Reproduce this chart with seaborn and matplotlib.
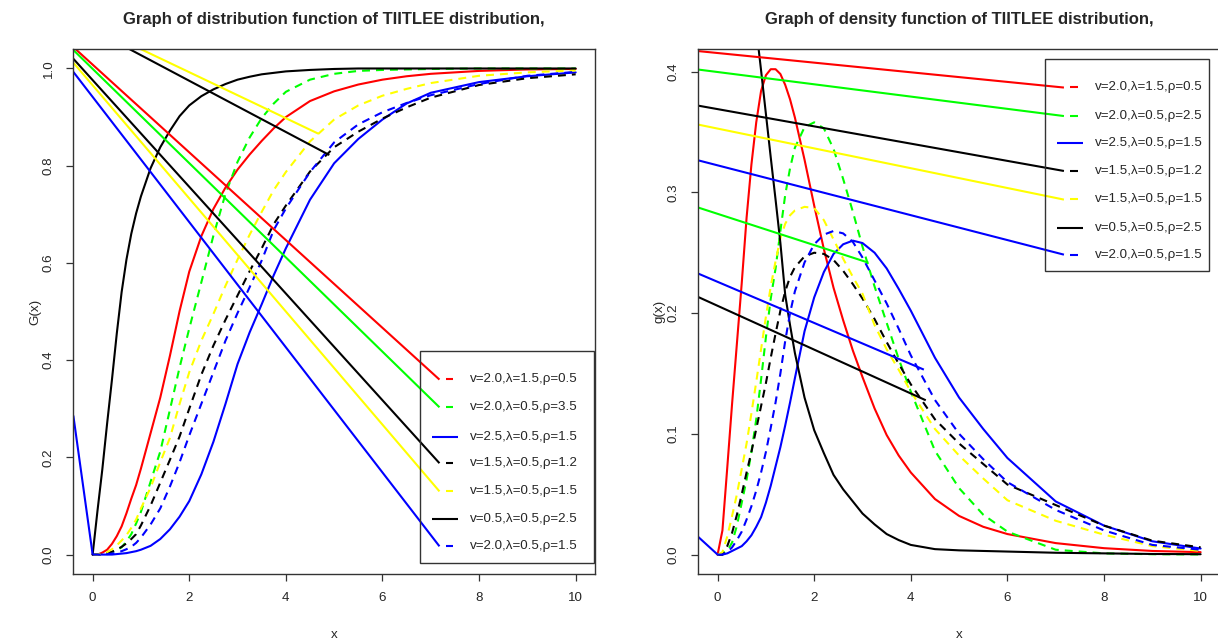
import numpy as np
import pandas as pd
import seaborn as sns
import matplotlib
matplotlib.use("Agg")
import matplotlib.pyplot as plt
from matplotlib.patches import Rectangle

# ---- values ----
x_cdf = [0, 0.1, 0.2, 0.3, 0.4, 0.5, 0.6, 0.7, 0.8, 0.9, 1.0, 1.2, 1.4, 1.6, 1.8, 2.0, 2.25, 2.5, 2.75,
         3.0, 3.25, 3.5, 3.75, 4.0, 4.5, 5.0, 5.5, 6, 6.5, 7, 8, 9, 10]
cdf_red = [0, 0.0, 0.004, 0.010, 0.022, 0.038, 0.058, 0.085, 0.115, 0.143, 0.177, 0.250, 0.323, 0.409,
           0.501, 0.582, 0.655, 0.711, 0.755, 0.792, 0.823, 0.851, 0.877, 0.900, 0.933, 0.953, 0.967,
           0.977, 0.984, 0.989, 0.995, 0.998, 0.999]
cdf_green = [0, 0, 0.001, 0.002, 0.005, 0.009, 0.015, 0.027, 0.042, 0.064, 0.088, 0.150, 0.212, 0.298,
             0.385, 0.465, 0.560, 0.656, 0.742, 0.808, 0.858, 0.898, 0.928, 0.952, 0.977, 0.989, 0.995,
             0.997, 0.998, 0.999, 1.0, 1.0, 1.0]
cdf_blue = [0, 0, 0, 0, 0, 0.001, 0.002, 0.003, 0.005, 0.007, 0.010, 0.018, 0.032, 0.052, 0.078, 0.11,
            0.165, 0.232, 0.31, 0.392, 0.457, 0.515, 0.575, 0.63, 0.73, 0.805, 0.855, 0.895, 0.928,
            0.95, 0.972, 0.984, 0.992]
cdf_black_dash = [0, 0, 0.001, 0.003, 0.006, 0.010, 0.016, 0.023, 0.032, 0.042, 0.060, 0.101, 0.148,
                  0.195, 0.243, 0.30, 0.37, 0.43, 0.483, 0.533, 0.583, 0.63, 0.68, 0.718, 0.788, 0.838,
                  0.87, 0.897, 0.92, 0.94, 0.966, 0.98, 0.988]
cdf_yellow = [0, 0, 0.002, 0.005, 0.011, 0.019, 0.029, 0.040, 0.055, 0.072, 0.095, 0.138, 0.190, 0.24,
              0.31, 0.375, 0.44, 0.495, 0.553, 0.607, 0.658, 0.705, 0.75, 0.787, 0.85, 0.895, 0.924,
              0.944, 0.958, 0.97, 0.985, 0.992, 0.996]
cdf_black = [0, 0.09, 0.175, 0.27, 0.36, 0.455, 0.54, 0.607, 0.66, 0.702, 0.737, 0.795, 0.838, 0.872,
             0.902, 0.924, 0.943, 0.957, 0.968, 0.977, 0.983, 0.988, 0.991, 0.994, 0.997, 0.999, 1.0,
             1.0, 1.0, 1.0, 1.0, 1.0, 1.0]
cdf_blue_dash = [0, 0, 0, 0.001, 0.002, 0.004, 0.007, 0.011, 0.016, 0.024, 0.035, 0.062, 0.095, 0.14,
                 0.19, 0.245, 0.31, 0.375, 0.44, 0.497, 0.55, 0.605, 0.668, 0.712, 0.787, 0.848, 0.885,
                 0.91, 0.929, 0.945, 0.968, 0.985, 0.993]

x_pdf = [0, 0.1, 0.2, 0.3, 0.4, 0.5, 0.6, 0.7, 0.8, 0.9, 1.0, 1.1, 1.2, 1.3, 1.4, 1.5, 1.6, 1.8, 2.0,
         2.2, 2.4, 2.6, 2.8, 3.0, 3.25, 3.5, 3.75, 4.0, 4.5, 5, 5.5, 6, 7, 8, 9, 10]
pdf_red = [0, 0.02, 0.072, 0.125, 0.175, 0.225, 0.279, 0.323, 0.358, 0.384, 0.397, 0.402, 0.402, 0.398,
           0.389, 0.377, 0.362, 0.327, 0.289, 0.253, 0.221, 0.194, 0.169, 0.147, 0.121, 0.099, 0.082,
           0.068, 0.046, 0.032, 0.023, 0.017, 0.0095, 0.0053, 0.003, 0.002]
pdf_green = [0, 0.001, 0.003, 0.01, 0.024, 0.043, 0.062, 0.085, 0.112, 0.145, 0.18, 0.212, 0.237, 0.268,
             0.298, 0.32, 0.337, 0.354, 0.358, 0.353, 0.336, 0.311, 0.284, 0.255, 0.222, 0.192, 0.162,
             0.135, 0.086, 0.055, 0.033, 0.019, 0.004, 0.001, 0.0003, 0.0001]
pdf_blue = [0, 0, 0.001, 0.003, 0.005, 0.007, 0.011, 0.016, 0.023, 0.031, 0.043, 0.057, 0.073, 0.089,
            0.107, 0.126, 0.146, 0.185, 0.213, 0.234, 0.249, 0.257, 0.260, 0.258, 0.25, 0.237, 0.22,
            0.202, 0.163, 0.13, 0.104, 0.08, 0.044, 0.024, 0.011, 0.005]
pdf_black_dash = [0, 0, 0.007, 0.018, 0.033, 0.05, 0.068, 0.085, 0.104, 0.123, 0.142, 0.163, 0.183,
                  0.202, 0.218, 0.23, 0.238, 0.247, 0.25, 0.249, 0.244, 0.235, 0.224, 0.212, 0.195,
                  0.176, 0.158, 0.141, 0.112, 0.092, 0.075, 0.058, 0.041, 0.024, 0.0115, 0.006]
pdf_yellow = [0, 0.002, 0.015, 0.032, 0.05, 0.071, 0.092, 0.117, 0.143, 0.17, 0.197, 0.222, 0.243, 0.262,
              0.274, 0.281, 0.285, 0.288, 0.287, 0.277, 0.261, 0.245, 0.23, 0.216, 0.19, 0.17, 0.153,
              0.135, 0.104, 0.082, 0.063, 0.045, 0.028, 0.0165, 0.007, 0.003]
pdf_black = [np.nan, np.nan, np.nan, np.nan, np.nan, 0.545, 0.51, 0.472, 0.436, 0.401, 0.365, 0.329,
             0.294, 0.258, 0.215, 0.19, 0.167, 0.13, 0.103, 0.084, 0.066, 0.054, 0.044, 0.034, 0.025,
             0.017, 0.012, 0.008, 0.0045, 0.0035, 0.003, 0.0025, 0.0015, 0.001, 0.0005, 0.0003]
pdf_blue_dash = [0, 0, 0.002, 0.006, 0.012, 0.019, 0.029, 0.04, 0.053, 0.068, 0.085, 0.105, 0.126, 0.15,
                 0.177, 0.2, 0.218, 0.242, 0.257, 0.265, 0.268, 0.266, 0.259, 0.246, 0.227, 0.208,
                 0.187, 0.165, 0.128, 0.10, 0.079, 0.06, 0.037, 0.02, 0.008, 0.004]

labels_cdf = ["v=2.0,λ=1.5,ρ=0.5", "v=2.0,λ=0.5,ρ=3.5", "v=2.5,λ=0.5,ρ=1.5", "v=1.5,λ=0.5,ρ=1.2",
              "v=1.5,λ=0.5,ρ=1.5", "v=0.5,λ=0.5,ρ=2.5", "v=2.0,λ=0.5,ρ=1.5"]
labels_pdf = ["v=2.0,λ=1.5,ρ=0.5", "v=2.0,λ=0.5,ρ=2.5", "v=2.5,λ=0.5,ρ=1.5", "v=1.5,λ=0.5,ρ=1.2",
              "v=1.5,λ=0.5,ρ=1.5", "v=0.5,λ=0.5,ρ=2.5", "v=2.0,λ=0.5,ρ=1.5"]

# stray straight strokes that run across each panel
stray_cdf_x0 = [-0.4, -0.4, -0.4, -0.4, -0.4, 0, 0, -0.4]
stray_cdf_y0 = [1.044, 1.038, 1.020, 1.012, 0.993, 1.087, 1.080, 0.286]
stray_cdf_x1 = [7.18, 7.18, 7.18, 7.18, 7.18, 4.67, 4.90, 0]
stray_cdf_y1 = [0.360, 0.303, 0.188, 0.130, 0.017, 0.866, 0.822, 0]
stray_cdf_col = ["red", "green", "black", "yellow", "blue", "yellow", "black", "blue"]

stray_pdf_x0 = [-0.4, -0.4, -0.4, -0.4, -0.4, -0.4, -0.4, -0.4, -0.4]
stray_pdf_y0 = [0.417, 0.4017, 0.3718, 0.3561, 0.3265, 0.2874, 0.2327, 0.2133, 0.0146]
stray_pdf_x1 = [7.17, 7.17, 7.17, 7.17, 7.17, 3.12, 4.27, 4.31, 0]
stray_pdf_y1 = [0.3868, 0.3632, 0.3177, 0.2940, 0.2484, 0.2418, 0.1532, 0.1278, 0]
stray_pdf_col = ["red", "green", "black", "yellow", "blue", "green", "blue", "black", "blue"]

# ---- styling ----
R_COL = {"red": "#FF0000", "green": "#00FF00", "blue": "#0000FF", "black": "#000000", "yellow": "#FFFF00"}
series_col = ["red", "green", "blue", "black", "yellow", "black", "blue"]
series_dash = [False, True, False, True, True, False, True]
key_dash = [True, True, False, True, True, False, True]
DASH = (0, (3.8, 2.9))
LW = 1.5

sns.set_style("white")
plt.rcParams["font.family"] = ["Liberation Sans", "DejaVu Sans"]

fig = plt.figure(figsize=(12.18, 6.41), dpi=100)
ax1 = fig.add_axes([0.0602, 0.1045, 0.4283, 0.819])
ax2 = fig.add_axes([0.5733, 0.1045, 0.4283, 0.819])

cdf_cols = [cdf_red, cdf_green, cdf_blue, cdf_black_dash, cdf_yellow, cdf_black, cdf_blue_dash]
pdf_cols = [pdf_red, pdf_green, pdf_blue, pdf_black_dash, pdf_yellow, pdf_black, pdf_blue_dash]
cdf = pd.DataFrame({"x": x_cdf, **{labels_cdf[i]: c for i, c in enumerate(cdf_cols)}})
pdf = pd.DataFrame({"x": x_pdf, **{labels_pdf[i]: c for i, c in enumerate(pdf_cols)}})


def draw_panel(ax, df, labels, sx0, sy0, sx1, sy1, scol, ylim, yticks, ylab, title, key_y, box):
    for i, lab in enumerate(labels):
        sns.lineplot(data=df, x="x", y=lab, ax=ax, color=R_COL[series_col[i]], lw=LW,
                     linestyle=DASH if series_dash[i] else "-", estimator=None, legend=False)
    for a, b, c, d, col in zip(sx0, sy0, sx1, sy1, scol):
        ax.plot([a, c], [b, d], color=R_COL[col], lw=LW, solid_capstyle="butt")

    ax.set_xlim(-0.4, 10.4)
    ax.set_ylim(*ylim)
    ax.set_xticks([0, 2, 4, 6, 8, 10])
    ax.set_yticks(yticks)
    ax.set_yticklabels([f"{t:.1f}" for t in yticks])
    for s in ax.spines.values():
        s.set_color("#333333")
        s.set_linewidth(1.0)
    ax.tick_params(axis="both", direction="out", length=5, width=0.9, color="#333333",
                   labelsize=9.6, left=True, bottom=True)
    ax.tick_params(axis="x", pad=7.7)
    ax.tick_params(axis="y", pad=8.5, labelrotation=90)
    for t in ax.get_yticklabels():
        t.set_va("center")
    ax.set_xlabel("x", fontsize=9.6)
    ax.set_ylabel(ylab, fontsize=9.6)
    ax.xaxis.set_label_coords(0.5, -0.104)
    ax.yaxis.set_label_coords(-0.062, 0.5)
    ax.text(0.5, 1.057, title, transform=ax.transAxes, ha="center", va="center",
            fontsize=12, fontweight="bold")

    # hand-drawn key, as in the original
    ax.add_patch(Rectangle((box[0], box[1]), box[2], box[3], transform=ax.transAxes,
                           fill=False, ec="#333333", lw=1.0, zorder=5))
    for i, lab in enumerate(labels):
        col = R_COL[series_col[i]]
        if key_dash[i]:
            ax.plot([0.7135, 0.7285], [key_y[i]] * 2, transform=ax.transAxes, color=col,
                    lw=LW, solid_capstyle="butt", zorder=6)
        else:
            ax.plot([0.687, 0.738], [key_y[i]] * 2, transform=ax.transAxes, color=col,
                    lw=LW, solid_capstyle="butt", zorder=6)
        ax.text(0.7603, key_y[i], lab, transform=ax.transAxes, ha="left", va="center",
                fontsize=9.6, zorder=6)


draw_panel(ax1, cdf, labels_cdf, stray_cdf_x0, stray_cdf_y0, stray_cdf_x1, stray_cdf_y1, stray_cdf_col,
           (-0.04, 1.04), [0.0, 0.2, 0.4, 0.6, 0.8, 1.0], "G(x)",
           "Graph of distribution function of TIITLEE distribution,",
           [0.3714, 0.3187, 0.2615, 0.2120, 0.1587, 0.1048, 0.0539],
           (0.6646, 0.0215, 0.3341, 0.4038))
draw_panel(ax2, pdf, labels_pdf, stray_pdf_x0, stray_pdf_y0, stray_pdf_x1, stray_pdf_y1, stray_pdf_col,
           (-0.0161, 0.4187), [0.0, 0.1, 0.2, 0.3, 0.4], "g(x)",
           "Graph of density function of TIITLEE distribution,",
           [0.9270, 0.8730, 0.8204, 0.7682, 0.7137, 0.6585, 0.6076],
           (0.6646, 0.5777, 0.3149, 0.4033))

fig.savefig("out.png", dpi=100)
